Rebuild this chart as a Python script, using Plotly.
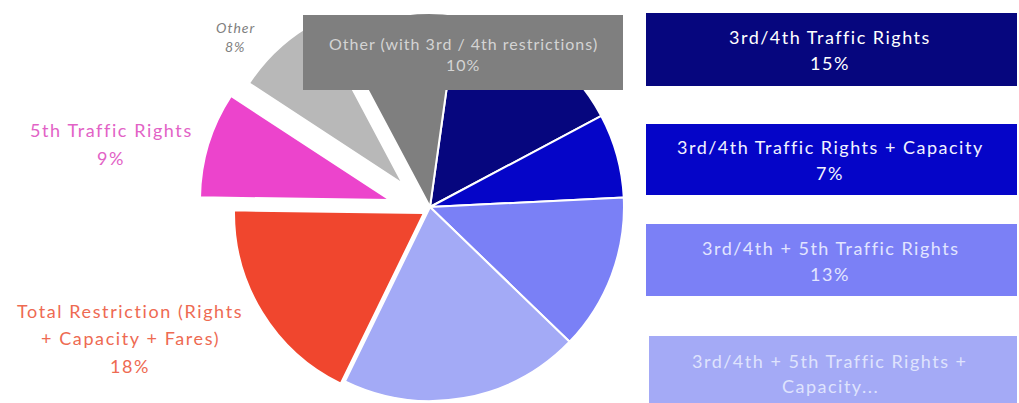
import plotly.graph_objects as go

W, H = 1019, 403

# ---- data ----
labels = [
    "3rd/4th Traffic Rights",
    "3rd/4th Traffic Rights + Capacity",
    "3rd/4th + 5th Traffic Rights",
    "3rd/4th + 5th Traffic Rights + Capacity",
    "Total Restriction (Rights + Capacity + Fares)",
    "5th Traffic Rights",
    "Other",
    "Other (with 3rd / 4th restrictions)",
]
values = [15, 7, 13, 20, 18, 9, 8, 10]
colors = ["#06067e", "#0505c8", "#7a80f6", "#a3aaf6", "#f0462e", "#ec44cc", "#b8b8b8", "#7f7f7f"]

# label text lines (percent lines come from values)
label_lines = [
    ["3rd/4th Traffic Rights"],
    ["3rd/4th Traffic Rights + Capacity"],
    ["3rd/4th + 5th Traffic Rights"],
    ["3rd/4th + 5th Traffic Rights +", "Capacity..."],
    ["Total Restriction (Rights", "+ Capacity + Fares)"],
    ["5th Traffic Rights"],
    ["Other"],
    ["Other (with 3rd / 4th restrictions)"],
]
show_pct = [True, True, True, False, True, True, True, True]

# ---- layout / style (pixels) ----
# pie groups: (slice indices, centre x, centre y, radius)
pie_groups = [
    ([0, 1, 2, 3, 7], 430, 207, 194),
    ([4], 424, 213, 190),
    ([5], 390, 200, 190),
    ([6], 403, 184, 184),
]
ROT = 8

# boxes for labels: index -> (x0, y0, x1, y1, fill)
boxes = {
    0: (646, 13, 1017, 86, "#06067e"),
    1: (646, 124, 1017, 195, "#0505c8"),
    2: (646, 224, 1017, 296, "#7b80f6"),
    3: (649, 336, 1017, 403, "#a4aaf6"),
    7: (303, 15, 623, 90, "#7f7f7f"),
}
# text placement: index -> (centre x, line y's, colour, size, letter spacing, italic)
text_pos = {
    0: (830, [37, 63], "#ffffff", 18, 1.5, False),
    1: (830, [147, 173], "#f2f2ff", 18, 1.5, False),
    2: (830, [248, 274], "#e2e5ff", 18, 1.5, False),
    3: (830, [361, 386], "#dfe3fd", 18, 1.5, False),
    4: (130, [311, 338, 366], "#ee6a52", 18, 1.6, False),
    5: (111, [130, 158], "#e262c6", 18, 1.6, False),
    6: (235, [28, 47], "#808080", 14, 1.0, True),
    7: (463, [43, 65], "#d4d4d4", 16, 1.0, False),
}
FONT = "Lato"


def px_domain(cx, cy, r):
    return dict(x=[(cx - r) / W, (cx + r) / W], y=[1 - (cy + r) / H, 1 - (cy - r) / H])


fig = go.Figure()
for idxs, cx, cy, r in pie_groups:
    cols = [colors[i] if i in idxs else "rgba(0,0,0,0)" for i in range(len(values))]
    lw = [2 if i in idxs else 0 for i in range(len(values))]
    fig.add_trace(go.Pie(
        labels=labels, values=values, sort=False, direction="clockwise",
        rotation=ROT, domain=px_domain(cx, cy, r),
        marker=dict(colors=cols, line=dict(color="white", width=lw)),
        textinfo="none", hoverinfo="skip", showlegend=False,
    ))

shapes = []
for i, (x0, y0, x1, y1, fill) in boxes.items():
    shapes.append(dict(type="rect", xref="paper", yref="paper",
                       x0=x0 / W, x1=x1 / W, y0=1 - y1 / H, y1=1 - y0 / H,
                       fillcolor=fill, line=dict(width=0), layer="above"))

annotations = []
for i, (cx, ys, col, size, ls, ital) in text_pos.items():
    lines = list(label_lines[i])
    if show_pct[i]:
        lines.append(f"{values[i]}%")
    for line, y in zip(lines, ys):
        txt = f'<span style="letter-spacing:{ls}px">{line}</span>'
        if ital:
            txt = f"<i>{txt}</i>"
        annotations.append(dict(x=cx / W, y=1 - y / H, xref="paper", yref="paper",
                                text=txt, showarrow=False, xanchor="center", yanchor="middle",
                                font=dict(family=FONT, size=size, color=col)))

fig.update_layout(
    width=W, height=H, margin=dict(l=0, r=0, t=0, b=0),
    paper_bgcolor="white", plot_bgcolor="white",
    shapes=shapes, annotations=annotations, showlegend=False,
)

fig.write_html(
    "out.html",
    config={"displayModeBar": False},
    post_script="document.body.style.margin='0';document.body.style.overflow='hidden';",
)
